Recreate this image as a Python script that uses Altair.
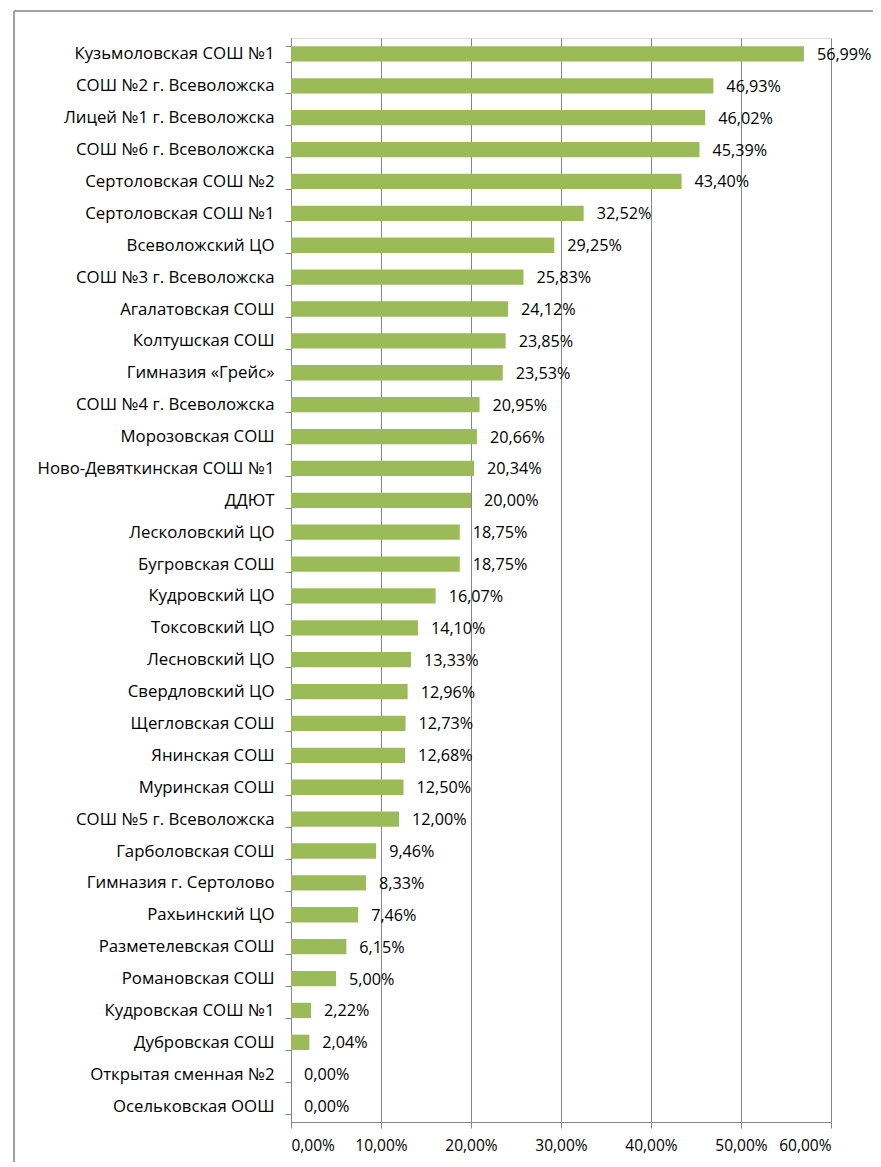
import altair as alt
import pandas as pd

NB = "\u00a0"
categories = [
    "Кузьмоловская СОШ №1",
    "СОШ №2 г. Всеволожска" + NB,
    "Лицей №1 г. Всеволожска",
    "СОШ №6 г. Всеволожска" + NB,
    "Сертоловская СОШ №2",
    "Сертоловская СОШ №1",
    "Всеволожский ЦО",
    "СОШ №3 г. Всеволожска" + NB,
    "Агалатовская СОШ",
    "Колтушская СОШ",
    "Гимназия «Грейс»",
    "СОШ №4 г. Всеволожска" + NB,
    "Морозовская СОШ",
    "Ново-Девяткинская СОШ №1",
    "ДДЮТ",
    "Лесколовский ЦО",
    "Бугровская СОШ",
    "Кудровский ЦО",
    "Токсовский ЦО",
    "Лесновский ЦО",
    "Свердловский ЦО",
    "Щегловская СОШ",
    "Янинская СОШ",
    "Муринская СОШ",
    "СОШ №5 г. Всеволожска" + NB,
    "Гарболовская СОШ",
    "Гимназия г. Сертолово",
    "Рахьинский ЦО",
    "Разметелевская СОШ",
    "Романовская СОШ",
    "Кудровская СОШ №1",
    "Дубровская СОШ",
    "Открытая сменная №2",
    "Осельковская ООШ",
]
values = [56.99, 46.93, 46.02, 45.39, 43.40, 32.52, 29.25, 25.83, 24.12, 23.85,
          23.53, 20.95, 20.66, 20.34, 20.00, 18.75, 18.75, 16.07, 14.10, 13.33,
          12.96, 12.73, 12.68, 12.50, 12.00, 9.46, 8.33, 7.46, 6.15, 5.00,
          2.22, 2.04, 0.00, 0.00]
x_ticks = [0, 0.1, 0.2, 0.3, 0.4, 0.5, 0.6]

df = pd.DataFrame({"cat": categories, "val": [v / 100 for v in values]})
df["label"] = [f"{v:.2f}%".replace(".", ",") for v in values]

FONT = "Open Sans"
FS_CAT = 16.8
FS_NUM = 16.2
FS_AXIS = 15.5
GRAY = "#868686"

y_enc = alt.Y("cat:N", sort=None, title=None,
              scale=alt.Scale(paddingInner=0.52, paddingOuter=0.26),
              axis=alt.Axis(domainColor=GRAY, tickColor=GRAY, tickSize=6,
                            tickBand="extent", labelPadding=11,
                            labelFont=FONT, labelFontSize=FS_CAT, labelColor="#000000",
                            labelLimit=300))
x_enc = alt.X("val:Q", title=None,
              scale=alt.Scale(domain=[0, 0.6], nice=False),
              axis=alt.Axis(values=x_ticks, grid=True, gridColor=GRAY,
                            domainColor=GRAY, tickColor=GRAY, tickSize=6,
                            labelPadding=10, labelFont=FONT, labelFontSize=FS_AXIS,
                            labelColor="#000000",
                            labelExpr="replace(format(datum.value, '.2%'), '.', ',')"))

bars = alt.Chart(df).mark_bar(color="#9BBB59").encode(x=x_enc, y=y_enc)
text = alt.Chart(df).mark_text(align="left", baseline="middle", dx=13, dy=1,
                               font=FONT, fontSize=FS_NUM, color="#000000").encode(
    x="val:Q", y=alt.Y("cat:N", sort=None), text="label:N")

border_left = alt.Chart(df).mark_rule(color="#A0A0A0", strokeWidth=1.5).encode(
    x=alt.value(-277), y=alt.value(-27), y2=alt.value(1140))
border_top = alt.Chart(df).mark_rule(color="#A0A0A0", strokeWidth=1.5).encode(
    x=alt.value(-277), x2=alt.value(600), y=alt.value(-27))

chart = alt.layer(border_left, border_top, bars, text).properties(
    width=540, height=1084,
    autosize=alt.AutoSizeParams(type="none"),
    padding={"left": 283, "top": 30, "right": 42, "bottom": 40},
).configure_view(stroke=None).configure(background="white")

chart.save("out.html", embed_options={"renderer": "svg", "actions": False})
